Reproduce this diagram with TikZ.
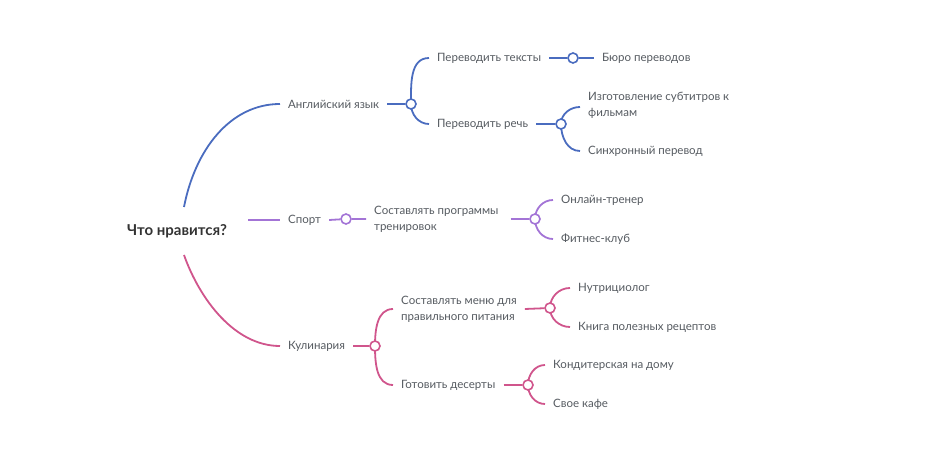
\documentclass[tikz,border=0pt]{standalone}
\usepackage{fontspec}
\setmainfont{Lato}
\usetikzlibrary{backgrounds}
\definecolor{cb}{HTML}{4A6CBF}
\definecolor{cv}{HTML}{A374D6}
\definecolor{cp}{HTML}{D0558C}
\definecolor{tx}{HTML}{555A60}
\begin{document}
\begin{tikzpicture}[x=1pt,y=-1pt,
  lbl/.style={anchor=west,inner xsep=8pt,inner ysep=1pt,font=\fontsize{11.5}{16}\selectfont,text=tx,align=left},
  hub/.style={circle,draw=#1,fill=white,line width=1.6pt,minimum size=10pt,inner sep=0pt},
  ln/.style={line width=1.8pt}]
\useasboundingbox (0,0) rectangle (929,462);
\node[font=\fontsize{15}{17}\bfseries\selectfont,text=black!80] (root) at (177,231) {Что нравится?};
\coordinate (rb) at (184,207);
\coordinate (rp) at (184,255);
\coordinate (rv) at (248,220);
% English
\node[lbl] (eng) at (280,104) {Английский язык};
\node[hub=cb] (h1) at (411,104) {};
\node[lbl] (t1) at (429,58) {Переводить тексты};
\node[lbl] (t2) at (429,124) {Переводить речь};
\node[hub=cb] (h2) at (573,58) {};
\node[lbl] (t3) at (594,58) {Бюро переводов};
\node[hub=cb] (h3) at (561,124) {};
\node[lbl] (t4) at (580,105) {Изготовление субтитров к\\фильмам};
\node[lbl] (t5) at (580,151) {Синхронный перевод};
% Sport
\node[lbl] (sp) at (280,220) {Спорт};
\node[hub=cv] (h4) at (346,219) {};
\node[lbl] (s1) at (366,219) {Составлять программы\\тренировок};
\node[hub=cv] (h5) at (535,219) {};
\node[lbl] (s2) at (553,200) {Онлайн-тренер};
\node[lbl] (s3) at (553,239) {Фитнес-клуб};
% Cooking
\node[lbl] (ck) at (280,346) {Кулинария};
\node[hub=cp] (h6) at (375,346) {};
\node[lbl] (c1) at (393,309) {Составлять меню для\\правильного питания};
\node[lbl] (c2) at (393,385) {Готовить десерты};
\node[hub=cp] (h7) at (550,308) {};
\node[lbl] (c3) at (570,288) {Нутрициолог};
\node[lbl] (c4) at (570,327) {Книга полезных рецептов};
\node[hub=cp] (h8) at (528,385) {};
\node[lbl] (c5) at (545,365) {Кондитерская на дому};
\node[lbl] (c6) at (545,404) {Свое кафе};
\begin{pgfonlayer}{background}
\draw[ln,cb] (rb) .. controls (195,150) and (230,104) .. (eng.west);
\draw[ln,cb] (eng.east) -- (h1);
\draw[ln,cb] (h1.center) to[out=90,in=180] (t1.west);
\draw[ln,cb] (h1.center) to[out=-90,in=180] (t2.west);
\draw[ln,cb] (t1.east) -- (h2) -- (t3.west);
\draw[ln,cb] (t2.east) -- (h3);
\draw[ln,cb] (h3.center) to[out=90,in=180] ([yshift=-2pt]t4.west);
\draw[ln,cb] (h3.center) to[out=-90,in=180] (t5.west);
\draw[ln,cv] (rv) -- (sp.west);
\draw[ln,cv] (sp.east) -- (h4) -- (s1.west);
\draw[ln,cv] ([xshift=4pt]s1.east) -- (h5);
\draw[ln,cv] (h5.center) to[out=90,in=180] (s2.west);
\draw[ln,cv] (h5.center) to[out=-90,in=180] (s3.west);
\draw[ln,cp] (rp) .. controls (200,300) and (235,346) .. (ck.west);
\draw[ln,cp] (ck.east) -- (h6);
\draw[ln,cp] (h6.center) to[out=90,in=180] (c1.west);
\draw[ln,cp] (h6.center) to[out=-90,in=180] (c2.west);
\draw[ln,cp] (c1.east) -- (h7);
\draw[ln,cp] (h7.center) to[out=90,in=180] (c3.west);
\draw[ln,cp] (h7.center) to[out=-90,in=180] (c4.west);
\draw[ln,cp] (c2.east) -- (h8);
\draw[ln,cp] (h8.center) to[out=90,in=180] (c5.west);
\draw[ln,cp] (h8.center) to[out=-90,in=180] (c6.west);
\end{pgfonlayer}
\end{tikzpicture}
\end{document}
